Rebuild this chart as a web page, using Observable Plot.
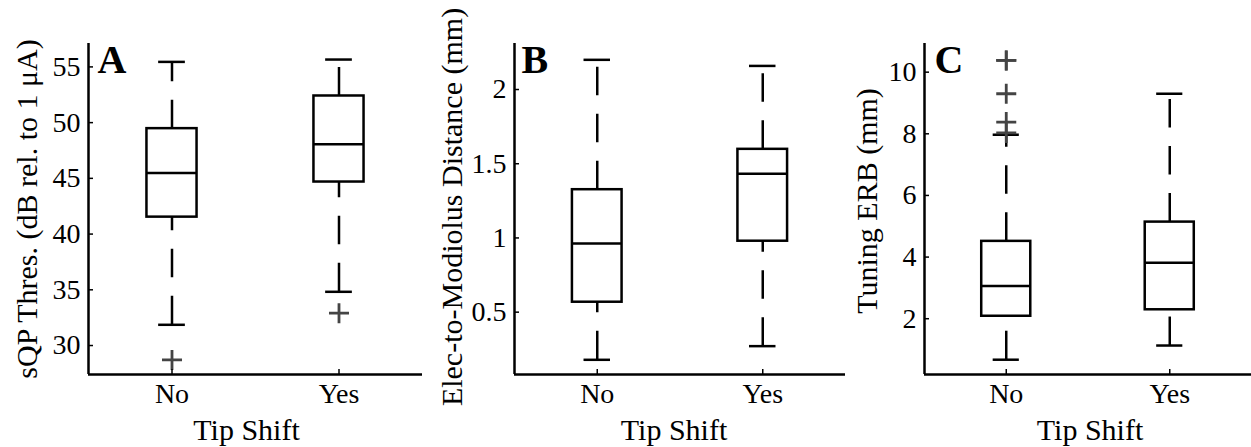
<!DOCTYPE html>
<html><head><meta charset="utf-8">
<script src="https://cdn.jsdelivr.net/npm/d3@7"></script>
<script src="https://cdn.jsdelivr.net/npm/@observablehq/plot@0.6"></script>
<style>
html,body{margin:0;padding:0;background:#fff;}
#row{display:flex;width:1251px;height:447px;overflow:hidden;}
#row svg{display:block;flex:none;}
</style></head><body><div id="row"></div>
<script>
// ---------- shared ----------
const categories = ["No", "Yes"];
const xTitle = "Tip Shift";

// ---------- Panel A ----------
const aLetter = "A";
const aTitle = "sQP Thres. (dB rel. to 1 μA)";
const aLower  = [31.86, 34.82];
const aQ1     = [41.52, 44.67];
const aMedian = [45.48, 48.05];
const aQ3     = [49.46, 52.39];
const aUpper  = [55.45, 55.66];
const aOutlierGroup = ["No", "Yes"];
const aOutlierValue = [28.71, 32.90];
const aTicks = [30, 35, 40, 45, 50, 55];
const aTickLabels = ["30", "35", "40", "45", "50", "55"];
const aDomain = [27.4, 57.1];

// ---------- Panel B ----------
const bLetter = "B";
const bTitle = "Elec-to-Modiolus Distance (mm)";
const bLower  = [0.179, 0.271];
const bQ1     = [0.567, 0.978];
const bMedian = [0.962, 1.433];
const bQ3     = [1.325, 1.597];
const bUpper  = [2.200, 2.159];
const bOutlierGroup = [];
const bOutlierValue = [];
const bTicks = [0.5, 1, 1.5, 2];
const bTickLabels = ["0.5", "1", "1.5", "2"];
const bDomain = [0.08, 2.31];

// ---------- Panel C ----------
const cLetter = "C";
const cTitle = "Tuning ERB (mm)";
const cLower  = [0.67, 1.13];
const cQ1     = [2.08, 2.29];
const cMedian = [3.06, 3.82];
const cQ3     = [4.51, 5.135];
const cUpper  = [7.97, 9.30];
const cOutlierGroup = ["No", "No", "No", "No", "No"];
const cOutlierValue = [10.38, 10.38, 9.30, 8.38, 8.03];
const cTicks = [2, 4, 6, 8, 10];
const cTickLabels = ["2", "4", "6", "8", "10"];
const cDomain = [0.19, 10.93];

const FONT = "'Liberation Serif', 'Times New Roman', Times, serif";

function panel(p) {
  const rows = categories.map((c, i) => ({
    cat: c, pos: i + 1,
    lo: p.lower[i], q1: p.q1[i], med: p.median[i], q3: p.q3[i], hi: p.upper[i]
  }));
  const outliers = p.outGroup.map((g, i) => ({pos: categories.indexOf(g) + 1, v: p.outValue[i]}));
  const boxHalf = 0.15, capHalf = 0.08;
  const dash = "28.5,18.5";
  const sw = 2.5;
  return Plot.plot({
    width: p.width, height: 447,
    marginTop: 43, marginBottom: 73, marginLeft: p.ml, marginRight: p.mr,
    style: {fontFamily: FONT, fontSize: "28px", color: "#000", background: "#fff"},
    x: {domain: [0.5, 2.5], axis: null},
    y: {domain: p.domain, axis: null},
    marks: [
      // whiskers (dashed), drawn from bottom to top
      Plot.ruleX(rows, {x: "pos", y1: "lo", y2: "q1", stroke: "#000", strokeWidth: sw, strokeDasharray: dash}),
      Plot.ruleX(rows, {x: "pos", y1: "q3", y2: "hi", stroke: "#000", strokeWidth: sw, strokeDasharray: dash}),
      // caps
      Plot.ruleY(rows, {y: "lo", x1: d => d.pos - capHalf, x2: d => d.pos + capHalf, stroke: "#000", strokeWidth: sw}),
      Plot.ruleY(rows, {y: "hi", x1: d => d.pos - capHalf, x2: d => d.pos + capHalf, stroke: "#000", strokeWidth: sw}),
      // box
      Plot.rect(rows, {x1: d => d.pos - boxHalf, x2: d => d.pos + boxHalf, y1: "q1", y2: "q3", fill: "none", stroke: "#000", strokeWidth: sw}),
      // median
      Plot.ruleY(rows, {y: "med", x1: d => d.pos - boxHalf, x2: d => d.pos + boxHalf, stroke: "#000", strokeWidth: sw}),
      // outliers
      Plot.dot(outliers, {x: "pos", y: "v", symbol: "plus", r: 6.5, stroke: "#444", strokeWidth: 2.8}),
      // axes
      Plot.ruleX([0.5], {stroke: "#000", strokeWidth: sw}),
      Plot.ruleY([p.domain[0]], {stroke: "#000", strokeWidth: sw}),
      Plot.axisY(p.ticks, {label: null, tickFormat: d => p.tickLabels[p.ticks.indexOf(d)], tickSize: -5, tickPadding: 13, fontSize: 28, stroke: "#000", strokeWidth: 1.5}),
      Plot.axisX([1, 2], {label: null, tickFormat: d => categories[d - 1], tickSize: -5, tickPadding: 14, fontSize: 28, stroke: "#000", strokeWidth: 1.5}),
      // titles
      Plot.text([p.title], {frameAnchor: "left", rotate: -90, dx: -p.titleOffset, dy: p.titleDy, textAnchor: "middle", lineAnchor: "middle", fontSize: 30, fill: "#000"}),
      Plot.text([xTitle], {frameAnchor: "bottom", dx: p.xTitleDx, dy: 56, textAnchor: "middle", lineAnchor: "middle", fontSize: 30, fill: "#000"}),
      Plot.text([p.letter], {frameAnchor: "top-left", dx: p.letterDx, dy: 17, textAnchor: "start", lineAnchor: "middle", fontSize: 40, fontWeight: "bold", fill: "#000"})
    ]
  });
}

const row = document.getElementById("row");
row.append(panel({letter: aLetter, title: aTitle, lower: aLower, q1: aQ1, median: aMedian, q3: aQ3, upper: aUpper,
  outGroup: aOutlierGroup, outValue: aOutlierValue, ticks: aTicks, tickLabels: aTickLabels, domain: aDomain,
  width: 430, ml: 88, mr: 8, titleOffset: 61, titleDy: 0, xTitleDx: -9, letterDx: 9}));
row.append(panel({letter: bLetter, title: bTitle, lower: bLower, q1: bQ1, median: bMedian, q3: bQ3, upper: bUpper,
  outGroup: bOutlierGroup, outValue: bOutlierValue, ticks: bTicks, tickLabels: bTickLabels, domain: bDomain,
  width: 420, ml: 84, mr: 5, titleOffset: 62, titleDy: -2, xTitleDx: -6, letterDx: 7}));
row.append(panel({letter: cLetter, title: cTitle, lower: cLower, q1: cQ1, median: cMedian, q3: cQ3, upper: cUpper,
  outGroup: cOutlierGroup, outValue: cOutlierValue, ticks: cTicks, tickLabels: cTickLabels, domain: cDomain,
  width: 401, ml: 74, mr: 0, titleOffset: 57, titleDy: -8, xTitleDx: 2, letterDx: 10}));
</script></body></html>
